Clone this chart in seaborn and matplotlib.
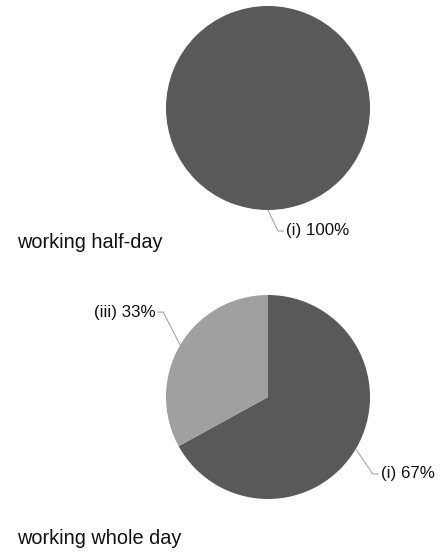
import numpy as np
import matplotlib
matplotlib.use("Agg")
import matplotlib.pyplot as plt
import seaborn as sns

# ---- data ----
titles = ["working half-day", "working whole day"]
half_day_labels = ["(i)"]
half_day_values = [100]
whole_day_labels = ["(i)", "(iii)"]
whole_day_values = [67, 33]

sns.set_theme(style="white")
plt.rcParams['font.family'] = ['Liberation Sans', 'DejaVu Sans']

W, H = 446, 552
fig = plt.figure(figsize=(W / 100, H / 100), dpi=100)
ax = fig.add_axes([0, 0, 1, 1])

palette = ["#595959", "#a0a0a0"]
R = 102
line_col = "#a6a6a6"

def draw_pie(values, labels, cx, cy, title, title_y, elbows):
    wedges, _ = ax.pie(values, colors=palette[:len(values)], startangle=90,
                       counterclock=False, radius=R, center=(cx, cy),
                       wedgeprops=dict(linewidth=0), frame=True)
    total = sum(values)
    for w, v, lab, (dx, dy) in zip(wedges, values, labels, elbows):
        mid = np.deg2rad((w.theta1 + w.theta2) / 2)
        if v == total:
            mid = np.deg2rad(-90)
        sx, sy = cx + R * np.cos(mid), cy + R * np.sin(mid)
        ex, ey = sx + dx, sy + dy
        side = 1 if dx >= 0 else -1
        hx = ex + side * 6
        ax.plot([sx, ex, hx], [sy, ey, ey], color=line_col, lw=0.8,
                solid_capstyle='butt')
        ax.text(hx + side * 2, ey, f"{lab} {v}%", fontsize=12.2,
                ha='left' if side > 0 else 'right', va='center',
                color="#111111")
    ax.text(17, title_y, title, fontsize=14.3, ha='left', va='center',
            color="#111111")

draw_pie(half_day_values, half_day_labels, 268, H - 108, titles[0], H - 243,
         [(10, -21)])
draw_pie(whole_day_values, whole_day_labels, 268, H - 397, titles[1], H - 538,
         [(17, -25), (-17, 33)])

ax.set_xlim(0, W)
ax.set_ylim(0, H)
ax.axis('off')
fig.savefig("out.png", dpi=100)
